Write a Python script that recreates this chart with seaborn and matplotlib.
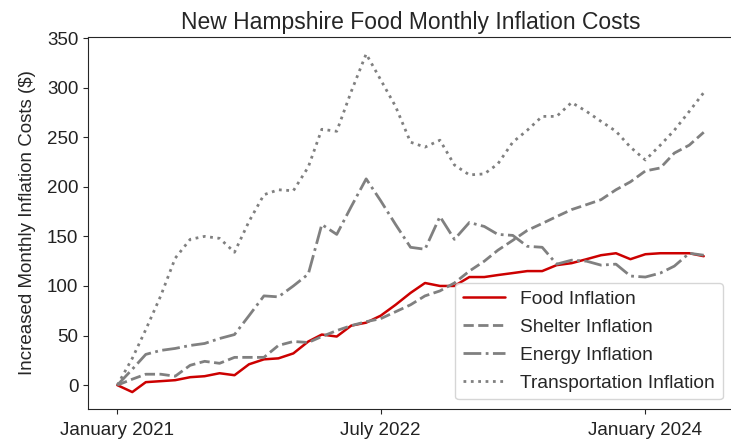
import matplotlib
matplotlib.use("Agg")
import matplotlib.pyplot as plt
import numpy as np
import pandas as pd
import seaborn as sns

months = pd.date_range("2021-01-01", "2024-05-01", freq="MS")

food = [0, -7, 3, 4, 5, 8, 9, 12, 10, 21, 26, 27, 32, 44, 51, 49, 60, 63, 70, 81,
        93, 103, 100, 100, 109, 109, 111, 113, 115, 115, 121, 123, 127, 131, 133, 127,
        132, 133, 133, 133, 130]
shelter = [0, 6, 11, 11, 9, 20, 24, 22, 28, 28, 28, 40, 44, 43, 49, 55, 60, 64, 67, 74,
           81, 90, 95, 103, 115, 125, 136, 146, 156, 163, 170, 177, 182, 187, 197, 205,
           216, 219, 234, 242, 255]
energy = [0, 16, 31, 35, 37, 40, 42, 47, 51, 70, 90, 89, 100, 112, 162, 152, 180, 208, 186, 162,
          139, 137, 170, 147, 164, 160, 152, 151, 140, 139, 122, 126, 125, 121, 122, 110,
          109, 113, 120, 133, 131]
transport = [0, 27, 56, 90, 128, 147, 150, 148, 134, 165, 192, 197, 196, 220, 258, 256, 296, 334, 308, 281,
             245, 240, 247, 222, 212, 213, 223, 245, 257, 271, 271, 285, 276, 266, 256, 240,
             227, 242, 257, 276, 295]

series_names = ["Food Inflation", "Shelter Inflation", "Energy Inflation", "Transportation Inflation"]
tick_dates = ["2021-01-01", "2022-07-01", "2024-01-01"]
tick_labels = ["January 2021", "July 2022", "January 2024"]

sns.set_style("ticks")
plt.rcParams["font.family"] = ["Liberation Sans", "DejaVu Sans"]

fig = plt.figure(figsize=(7.31, 4.48), dpi=100)
ax = fig.add_axes([0.1204, 0.0871, 0.8824, 0.8303])

styles = [
    dict(color="#cc0000", linestyle="-", linewidth=1.8),
    dict(color="gray", linestyle="--", linewidth=2.0),
    dict(color="gray", linestyle="-.", linewidth=2.0),
    dict(color="gray", linestyle=":", linewidth=2.0),
]
for name, vals, st in zip(series_names, [food, shelter, energy, transport], styles):
    df = pd.DataFrame({"date": months, "value": vals})
    sns.lineplot(data=df, x="date", y="value", ax=ax, label=name, **st)

ax.set_xticks(pd.to_datetime(tick_dates))
ax.set_xticklabels(tick_labels)
ax.tick_params(axis="both", labelsize=13.5, colors="0.15", labelcolor="#222222")
ax.tick_params(axis="x", pad=6)
ax.set_xlabel("")
ax.set_ylabel("Increased Monthly Inflation Costs ($)", fontsize=13.5, labelpad=8)
ax.set_title("New Hampshire Food Monthly Inflation Costs", fontsize=16.5)
ax.set_yticks(np.arange(0, 351, 50))
for s in ax.spines.values():
    s.set_color("0.15")
ax.spines["right"].set_visible(False)

leg = ax.legend(loc="lower right", fontsize=13.8, frameon=True, handlelength=2.2,
                labelspacing=0.55, bbox_to_anchor=(0.999, 0.0))

fig.savefig("out.png", dpi=100)
